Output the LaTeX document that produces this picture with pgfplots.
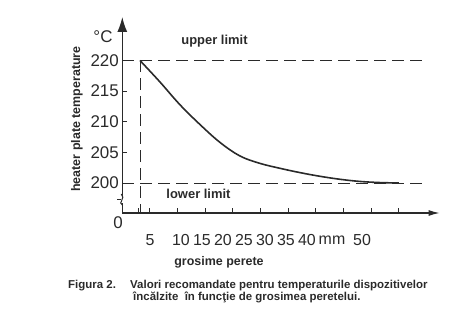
\documentclass[border=0pt]{standalone}
\usepackage{pgfplots}
\pgfplotsset{compat=1.18}
\usepackage{fontspec}
\setmainfont{Liberation Sans}
\usetikzlibrary{arrows.meta}
\definecolor{ink}{HTML}{2A2A2A}
\begin{document}
\begin{tikzpicture}[every node/.style={text=ink}]
\path[use as bounding box] (-122.3bp,-113bp) rectangle (345.7bp,213bp);
\begin{axis}[
  scale only axis,
  width=317.4bp, height=196bp,
  xmin=0, xmax=57.4, ymin=195.1, ymax=227.1,
  axis lines=left,
  clip=false,
  x axis line style={ink, line width=1.3pt, -{Latex[length=11bp,width=6bp]}},
  y axis line style={ink, line width=1.3pt, -{Latex[length=15bp,width=10bp]}},
  xtick={3,5,10,15,20,25,30,35,40,45,50},
  xticklabels={},
  ytick={200,205,210,215,220},
  yticklabel style={font=\fontsize{17}{19}\selectfont, text=ink},
  /pgf/number format/assume math mode=true,
  tick align=inside,
  major tick length=5bp,
  tick style={ink, line width=0.9pt},
]
\addplot[ink, line width=0.7pt, dash pattern=on 12bp off 6bp] coordinates {(0,220) (54.4,220)};
\addplot[ink, line width=0.7pt, dash pattern=on 12bp off 6bp] coordinates {(0,200) (54.4,200)};
\addplot[ink, line width=0.7pt, dash pattern=on 12bp off 6bp] coordinates {(3.2,220) (3.2,195.1)};
\addplot[ink, line width=1.6pt, smooth, tension=0.6] coordinates {
(3.2,220) (6.8,216.5) (10.4,212.8) (14.1,209.5) (17.7,206.6) (21.3,204.4)
(24.9,203.2) (28.5,202.4) (32.1,201.7) (35.7,201.1) (39.4,200.6) (43,200.25)
(46.6,200.07) (50,200)};
\end{axis}
% axis break
\fill[white] (-2bp,10bp) rectangle (2bp,17bp);
\draw[ink, line width=1pt] (0,8bp) .. controls (-5bp,10bp) and (4bp,15bp) .. (-1bp,19bp);
\draw[ink, line width=0.9pt] (-1bp,13.5bp) -- (-5bp,13.5bp);
% labels
\node[font=\fontsize{17}{19}\selectfont] at (-19.3bp,176bp) {°C};
\node[font=\fontsize{13}{15}\selectfont\bfseries] at (92.2bp,172bp) {upper limit};
\node[font=\fontsize{13}{15}\selectfont\bfseries] at (76.2bp,19bp) {lower limit};
\node[font=\fontsize{17}{19}\selectfont] at (-4.3bp,-10bp) {0};
\node[font=\fontsize{12.5}{14}\selectfont\bfseries, rotate=90] at (-45.3bp,94bp) {heater plate temperature};
\foreach \xx/\lab in {27.7/5, 58.7/10, 79.7/15, 100.7/20, 121.7/25, 142.7/30, 163.7/35, 184.7/40, 209.7/mm, 239.7/50}
  \node[font=\fontsize{16}{18}\selectfont] at (\xx bp,-27bp) {\lab};
\node[font=\fontsize{12.5}{14}\selectfont\bfseries] at (96.7bp,-49bp) {grosime perete};
\node[font=\fontsize{11.5}{13}\selectfont\bfseries, anchor=west, inner sep=0pt] at (-54.3bp,-73bp) {Figura 2.};
\node[font=\fontsize{11.5}{13}\selectfont\bfseries, anchor=west, inner sep=0pt] at (7.7bp,-73bp) {Valori recomandate pentru temperaturile dispozitivelor};
\node[font=\fontsize{11.5}{13}\selectfont\bfseries, anchor=west, inner sep=0pt] at (10.7bp,-84bp) {încălzite\ \ în funcţie de grosimea peretelui.};
\end{tikzpicture}
\end{document}
